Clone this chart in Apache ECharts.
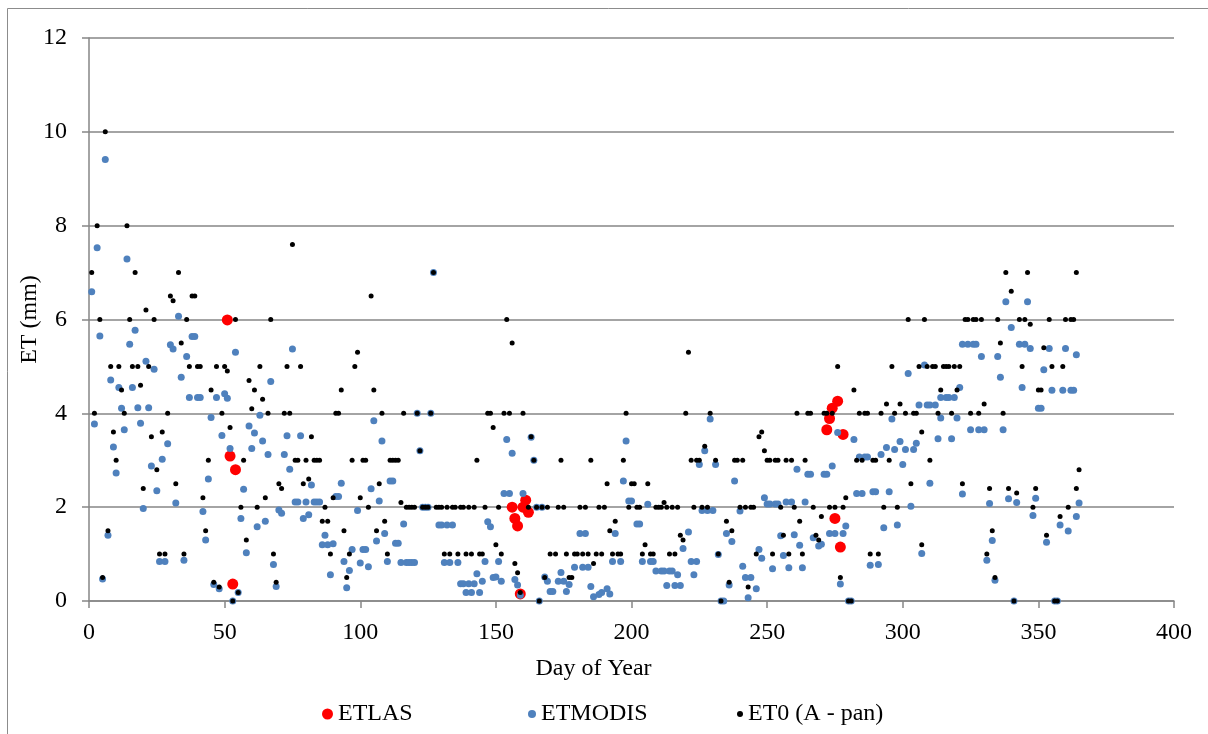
<!DOCTYPE html>
<html>
<head>
<meta charset="utf-8">
<script src="https://cdn.jsdelivr.net/npm/echarts@6/dist/echarts.min.js"></script>
<style>html,body{margin:0;padding:0;background:#fff}#chart{width:1208px;height:734px}</style>
</head>
<body>
<div id="chart"></div>
<script>
// ETLAS (red)
const lasDays   = [51, 52, 53, 54, 156, 157, 158, 159, 160, 161, 162, 272, 273, 274, 275, 276, 277, 278];
const lasValues = [5.99, 3.09, 0.36, 2.80, 2.0, 1.76, 1.60, 0.15, 2.0, 2.15, 1.89, 3.65, 3.89, 4.11, 1.76, 4.26, 1.15, 3.55];

// ETMODIS (blue)
const modisDays = [
  6,3,14,1,33,4,17,15,38,39,30,31,36,21,24,34,8,11,16,37,40,41,47,50,12,18,22,2,13,19,45,49,9,29,27,23,10,44,25,20,32,42,7,43,26,28,35,5,46,48,
  75,54,67,51,63,59,61,64,73,78,60,52,66,72,74,82,93,57,91,92,76,77,80,83,84,85,70,71,79,81,99,56,65,62,58,87,86,88,90,97,94,68,100,96,89,69,95,55,53,
  127,105,108,121,126,122,111,112,104,107,123,124,125,116,109,113,114,106,129,130,132,134,147,148,101,102,103,110,115,117,118,119,120,131,133,136,146,143,145,137,138,140,142,139,141,144,149,
  154,156,163,164,198,197,199,153,155,160,165,167,181,183,194,151,193,196,179,182,184,150,152,157,158,168,169,174,173,175,177,170,171,176,185,186,188,189,191,192,159,166,
  229,227,225,231,238,200,206,226,228,230,240,202,203,221,235,237,219,232,247,204,207,208,222,224,209,211,212,214,215,217,223,241,242,244,213,216,218,236,246,243,233,234,
  276,282,296,299,294,297,292,284,286,287,261,265,266,271,272,274,249,250,251,253,254,257,259,264,283,285,289,290,295,279,273,275,278,293,298,255,260,262,267,269,270,248,252,256,258,263,288,291,277,280,281,
  338,346,340,322,324,326,327,343,345,347,329,335,308,336,344,302,321,314,316,317,319,306,309,310,312,313,318,314,320,325,328,330,337,305,304,301,300,310,303,322,332,339,342,348,307,333,331,334,341,
  354,360,364,352,355,359,362,363,350,351,349,365,364,358,361,353,356,357
];
const modisValues = [
  9.41,7.53,7.29,6.59,6.07,5.65,5.77,5.47,5.64,5.64,5.46,5.37,5.21,5.11,4.94,4.77,4.71,4.55,4.55,4.34,4.34,4.34,4.34,4.42,4.11,4.12,4.12,3.77,3.65,3.79,3.91,3.53,3.28,3.35,3.02,2.88,2.73,2.60,2.35,1.97,2.09,1.91,1.40,1.30,0.84,0.84,0.87,0.47,0.35,0.26,
  5.37,5.30,4.68,4.32,3.96,3.73,3.58,3.41,3.52,3.52,3.25,3.25,3.12,3.12,2.81,2.47,2.51,2.38,2.23,2.23,2.11,2.11,2.11,2.11,2.11,2.11,1.94,1.87,1.76,1.84,1.93,1.76,1.70,1.58,1.03,1.40,1.20,1.20,1.22,1.10,0.84,0.78,0.81,0.65,0.56,0.31,0.28,0.18,0.0,
  7.0,3.84,3.41,4.0,4.0,3.2,2.56,2.56,2.39,2.13,2.0,2.0,2.0,1.64,1.44,1.23,1.23,1.28,1.62,1.62,1.62,1.62,1.69,1.58,1.10,1.10,0.73,0.84,0.82,0.82,0.82,0.82,0.82,0.82,0.82,0.82,0.84,0.58,0.42,0.37,0.37,0.37,0.37,0.18,0.18,0.18,0.5,
  3.44,3.15,3.49,3.0,3.41,2.56,2.13,2.29,2.29,2.29,2.0,2.0,1.44,1.44,1.44,0.84,0.84,0.84,0.72,0.72,0.72,0.51,0.42,0.46,0.34,0.51,0.42,0.61,0.42,0.42,0.35,0.2,0.2,0.2,0.31,0.09,0.14,0.18,0.26,0.15,0.12,0.0,
  3.88,3.2,2.91,2.91,2.56,2.13,2.06,1.93,1.93,1.93,1.92,1.64,1.64,1.47,1.44,1.27,1.12,0.99,1.10,0.84,0.84,0.84,0.84,0.84,0.64,0.64,0.64,0.64,0.64,0.56,0.56,0.74,0.5,0.5,0.33,0.33,0.33,0.34,0.26,0.07,0.0,0.0,
  3.59,3.44,3.88,3.40,3.27,3.23,3.12,3.07,3.07,3.07,2.81,2.70,2.70,2.70,2.70,2.88,2.2,2.07,2.07,2.07,2.07,2.11,2.11,2.11,2.29,2.29,2.33,2.33,2.33,1.60,1.44,1.44,1.44,1.56,1.62,1.39,1.41,1.19,1.35,1.17,1.21,0.91,0.69,0.97,0.71,0.71,0.76,0.78,0.36,0.0,0.0,
  6.38,6.38,5.83,5.47,5.47,5.47,5.47,5.47,5.47,5.38,5.21,5.21,5.03,4.77,4.55,4.85,4.55,4.34,4.34,4.34,4.34,4.18,4.18,4.18,4.18,3.46,3.46,3.90,3.90,3.65,3.65,3.65,3.65,3.36,3.23,3.23,2.91,2.51,2.02,2.28,2.08,2.18,2.10,1.82,1.01,1.29,0.87,0.44,0.0,
  5.38,5.38,5.25,4.93,4.49,4.49,4.49,4.49,4.11,4.11,2.19,2.09,1.80,1.62,1.49,1.25,0.0,0.0
];

// ET0 (A - pan) (black)
const et0Days = [
  6,3,14,1,17,33,30,31,38,39,21,4,15,24,36,34,8,11,16,18,22,37,40,41,47,50,12,19,45,2,13,29,49,9,27,23,10,25,44,20,32,42,7,43,26,28,35,5,46,48,
  75,54,67,99,51,63,73,78,98,59,61,64,93,60,66,72,74,91,92,52,82,57,76,77,80,83,84,85,97,70,71,79,81,65,90,56,62,87,100,86,88,94,58,89,96,68,95,69,55,53,
  104,127,105,108,116,121,126,147,148,149,101,102,111,112,113,114,143,122,107,115,103,117,118,119,120,123,124,125,128,129,130,132,134,135,137,138,140,142,146,109,106,110,131,133,136,139,141,144,145,
  154,156,153,155,160,198,163,164,174,185,197,191,151,162,165,167,169,173,175,181,183,188,190,199,194,192,150,152,170,172,176,179,180,182,184,187,189,193,195,196,157,158,186,168,177,178,159,166,
  221,220,229,247,248,227,222,224,225,231,238,239,241,200,201,206,202,203,209,210,211,213,215,217,223,226,228,240,242,244,245,212,235,237,218,219,205,204,207,208,214,216,232,246,236,243,233,
  276,296,282,294,299,261,265,266,271,272,274,284,286,287,292,297,249,250,251,253,254,257,259,264,283,285,289,290,295,279,255,260,267,273,275,278,293,298,270,262,256,268,269,252,258,263,288,291,277,280,281,
  338,346,340,302,308,323,324,326,327,329,335,343,345,347,336,306,309,311,312,315,316,317,319,321,344,314,320,330,301,304,305,313,318,325,328,337,307,310,303,322,332,339,342,348,349,333,307,331,334,341,
  364,354,360,362,363,352,355,359,350,351,365,364,361,358,353,356,357
];
const et0Values = [
  10,8,8,7,7,7,6.5,6.4,6.5,6.5,6.2,6,6,6,6,5.5,5,5,5,5,5,5,5,5,5,5,4.5,4.6,4.5,4,4,4,4,3.6,3.6,3.5,3,2.8,3,2.4,2.5,2.2,1.5,1.5,1,1,1,0.5,0.4,0.3,
  7.6,6,6,5.3,4.9,5,5,5,5,4.7,4.5,4.3,4.5,4.1,4,4,4,4,4,3.7,3.5,3,3,3,3,3,3,3,3,2.5,2.4,2.5,2.6,2.2,2.2,2,2,2,2.2,1.7,1.7,1.5,1.3,1,1,1,0.5,0.4,0.18,0,
  6.5,7,4.5,4,4,4,4,4,4,3.7,3,3,3,3,3,3,3,3.2,2.5,2.1,2,2,2,2,2,2,2,2,2,2,2,2,2,2,2,2,2,2,2,1.7,1.5,1,1,1,1,1,1,1,1,
  6,5.5,4,4,4,4,3.5,3,3,3,3,2.5,2,2,2,2,2,2,2,2,2,2,2,2,1.7,1.5,1.2,1,1,1,1,1,1,1,1,1,1,1,1,1,0.8,0.6,0.8,0.5,0.5,0.5,0.18,0,
  5.3,4,4,3.5,3.6,3.3,3,3,3,3,3,3,3,2.5,2.5,2.5,2,2,2,2,2,2,2,2,2,2,2,2,2,2,2,2.1,1.7,1.5,1.4,1.3,1.2,1,1,1,1,1,1,1,0.4,0.3,0,
  5,5,4.5,4.2,4.2,4,4,4,4,4,4,4,4,4,4,4,3.2,3,3,3,3,3,3,3,3,3,3,3,3,2.2,2,2,2,2,2,2,2,2,1.8,1.7,1.4,1.4,1.3,1,1,1,1,1,0.5,0,0,
  7,7,6.6,6,6,6,6,6,6,6,6,6,6,5.9,5.5,5,5,5,5,5,5,5,5,5,5,4.5,4.5,4.2,4,4,4,4,4,4,4,4,3.6,3,2.5,2.5,2.4,2.4,2.3,2,2.4,1.5,1.2,1,0.5,0,
  7,6,6,6,6,5.4,5,5,4.5,4.5,2.8,2.4,2,1.8,1.4,0,0
];

const xTicks = { min: 0, max: 400, interval: 50 };
const yTicks = { min: 0, max: 12, interval: 2 };

function pairs(days, vals) { return days.map((d, i) => [d, vals[i]]); }

const FONT = 'Liberation Serif';
const GRID = '#868686';
const chart = echarts.init(document.getElementById('chart'), null, { renderer: 'canvas' });
chart.setOption({
  animation: false,
  backgroundColor: '#ffffff',
  graphic: [{
    type: 'rect', silent: true, z: -10,
    shape: { x: 7.5, y: 8.5, width: 1400, height: 900 },
    style: { fill: 'none', stroke: '#8c8c8c', lineWidth: 1 }
  }],
  grid: { left: 89, right: 34, top: 38, bottom: 133, containLabel: false },
  xAxis: {
    type: 'value', min: xTicks.min, max: xTicks.max, interval: xTicks.interval,
    name: 'Day of Year', nameLocation: 'middle', nameGap: 56, nameMoveOverlap: false,
    nameTextStyle: { fontFamily: FONT, fontSize: 24, color: '#000', padding: [0, 76, 0, 0] },
    axisLine: { show: true, lineStyle: { color: GRID, width: 1.5 } },
    axisTick: { show: true, length: 7, lineStyle: { color: GRID, width: 1.5 } },
    axisLabel: { fontFamily: FONT, fontSize: 24, color: '#000', margin: 20 },
    splitLine: { show: false }
  },
  yAxis: {
    type: 'value', min: yTicks.min, max: yTicks.max, interval: yTicks.interval,
    name: 'ET (mm)', nameLocation: 'middle', nameGap: 47, nameRotate: 90, nameMoveOverlap: false,
    nameTextStyle: { fontFamily: FONT, fontSize: 24, color: '#000' },
    axisLine: { show: true, lineStyle: { color: GRID, width: 1.5 } },
    axisTick: { show: true, length: 7, lineStyle: { color: GRID, width: 1.5 } },
    axisLabel: { fontFamily: FONT, fontSize: 24, color: '#000', margin: 22 },
    splitLine: { show: true, lineStyle: { color: GRID, width: 1.5 } }
  },
  legend: [
    { data: ['ETLAS'], left: 317, top: 697, icon: 'circle', itemWidth: 11, itemHeight: 11,
      textStyle: { fontFamily: FONT, fontSize: 24, color: '#000' } },
    { data: ['ETMODIS'], left: 523, top: 697, icon: 'circle', itemWidth: 8, itemHeight: 8,
      textStyle: { fontFamily: FONT, fontSize: 24, color: '#000' } },
    { data: ['ET0 (A - pan)'], left: 732, top: 697, icon: 'circle', itemWidth: 6, itemHeight: 6,
      textStyle: { fontFamily: FONT, fontSize: 24, color: '#000' } }
  ],
  series: [
    { name: 'ETLAS', type: 'scatter', symbol: 'circle', symbolSize: 11,
      itemStyle: { color: '#ff0000', opacity: 1 }, data: pairs(lasDays, lasValues) },
    { name: 'ETMODIS', type: 'scatter', symbol: 'circle', symbolSize: 7,
      itemStyle: { color: '#4f81bd', opacity: 1 }, data: pairs(modisDays, modisValues) },
    { name: 'ET0 (A - pan)', type: 'scatter', symbol: 'circle', symbolSize: 5,
      itemStyle: { color: '#000000', opacity: 1 }, data: pairs(et0Days, et0Values) }
  ]
});
</script>
</body>
</html>
